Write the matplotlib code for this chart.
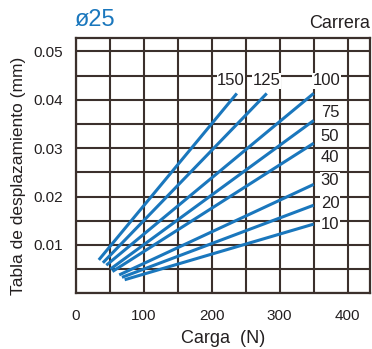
import matplotlib
matplotlib.use("Agg")
import matplotlib.pyplot as plt
import numpy as np

plt.rcParams['font.family'] = ['Liberation Sans', 'DejaVu Sans']

# Strokes (stroke length in mm) and line endpoints
strokes = ["150", "125", "100", "75", "50", "30", "20", "10"]
load_start = [34, 40, 45, 51, 54, 64, 68, 72]
disp_start = [0.0069, 0.0063, 0.0058, 0.0050, 0.0045, 0.0038, 0.0033, 0.0028]
load_end = [237, 281, 350, 350, 350, 350, 350, 350]
disp_end = [0.0413, 0.0413, 0.0413, 0.0357, 0.0310, 0.0225, 0.0182, 0.0143]

# Curve labels
top_labels = ["150", "125", "100"]
top_label_x = [228, 281, 369]
top_label_y = 0.0439
side_labels = ["75", "50", "40", "30", "20", "10"]
side_label_y = [0.0373, 0.0323, 0.0281, 0.0234, 0.0186, 0.0143]
side_label_x = 374

x_ticks = [0, 100, 200, 300, 400]
y_ticks = [0.01, 0.02, 0.03, 0.04, 0.05]

blue = "#1a77bd"
gridc = "#3b302c"
textc = "#231f20"

fig = plt.figure(figsize=(3.72, 3.49), dpi=100)
ax = fig.add_axes([0.2035, 0.1596, 0.791, 0.7315])
ax.set_xlim(0, 432.8)
ax.set_ylim(0, 0.05275)

ax.set_xticks(np.arange(0, 433, 50), minor=True)
ax.set_yticks(np.arange(0, 0.0526, 0.005), minor=True)
ax.set_xticks(x_ticks)
ax.set_xticklabels([str(v) for v in x_ticks])
ax.set_yticks(y_ticks)
ax.set_yticklabels([f"{v:.2f}" for v in y_ticks])
ax.grid(True, which='both', color=gridc, linewidth=1.5)
ax.tick_params(which='both', length=0, labelcolor=textc)
ax.tick_params(axis='x', pad=11, labelsize=11)
ax.tick_params(axis='y', pad=9, labelsize=11)
for s in ax.spines.values():
    s.set_color(gridc)
    s.set_linewidth(1.6)
ax.set_axisbelow(True)

for i in range(len(strokes)):
    ax.plot([load_start[i], load_end[i]], [disp_start[i], disp_end[i]],
            color=blue, linewidth=2.2, solid_capstyle='butt', zorder=3)

bbox = dict(facecolor='white', edgecolor='none', pad=0.3)
for lab, x in zip(top_labels, top_label_x):
    ax.text(x, top_label_y, lab, ha='center', va='center', fontsize=12,
            color=textc, bbox=bbox, zorder=4)
for lab, y in zip(side_labels, side_label_y):
    ax.text(side_label_x, y, lab, ha='center', va='center', fontsize=12,
            color=textc, bbox=bbox, zorder=4)

ax.set_xlabel("Carga  (N)", fontsize=13, labelpad=5, color=textc)
ax.set_ylabel("Tabla de desplazamiento (mm)", fontsize=12.5, labelpad=5,
              color=textc)
ax.yaxis.set_label_coords(-0.17, 0.46)

fig.text(75 / 372, 1 - 20 / 349, "ø25", color=blue, fontsize=17,
         ha='left', va='center')
fig.text(370 / 372, 1 - 23 / 349, "Carrera", color=textc, fontsize=13,
         ha='right', va='center')

fig.savefig("out.png", dpi=100)
